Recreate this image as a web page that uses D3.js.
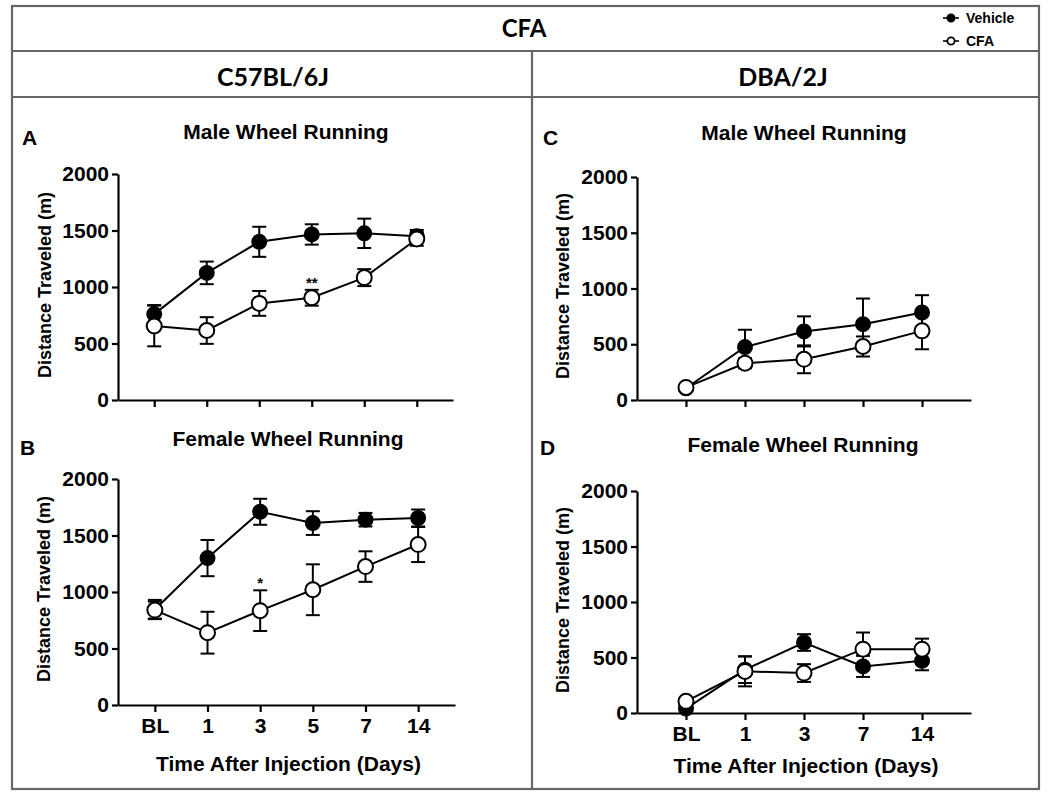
<!DOCTYPE html>
<html>
<head>
<meta charset="utf-8">
<script src="https://cdn.jsdelivr.net/npm/d3@7"></script>
<style>
  html, body { margin: 0; padding: 0; background: #fff; }
  svg { display: block; }
  .chart text { font-family: "Liberation Sans", Arial, sans-serif; font-weight: bold; fill: #000; }
  .chart text.hdr { font-family: "Lato", "Open Sans", sans-serif; font-weight: bold; }
</style>
</head>
<body>
<svg id="chart" class="chart" width="1050" height="801"></svg>
<script>
// ---------- DATA ----------
const daysAB = ["BL", "1", "3", "5", "7", "14"];
const daysCD = ["BL", "1", "3", "7", "14"];
const yTicks = [0, 500, 1000, 1500, 2000];
const seriesNames = ["Vehicle", "CFA"];

// A: C57BL/6J male
const aVehicle    = [760, 1125, 1400, 1465, 1475, 1450];
const aVehicleErr = [80, 100, 133, 90, 130, 55];
const aCFA        = [655, 615, 855, 905, 1083, 1425];
const aCFAErr     = [180, 118, 110, 70, 75, 60];
// B: C57BL/6J female
const bVehicle    = [845, 1300, 1710, 1610, 1640, 1655];
const bVehicleErr = [85, 160, 115, 105, 60, 75];
const bCFA        = [840, 640, 835, 1020, 1225, 1420];
const bCFAErr     = [75, 185, 180, 225, 135, 155];
// C: DBA/2J male
const cVehicle    = [105, 475, 615, 680, 785];
const cVehicleErr = [20, 155, 135, 230, 155];
const cCFA        = [113, 330, 365, 480, 620];
const cCFAErr     = [25, 45, 125, 90, 165];
// D: DBA/2J female
const dVehicle    = [40, 390, 635, 420, 470];
const dVehicleErr = [20, 120, 75, 95, 85];
const dCFA        = [105, 375, 360, 575, 575];
const dCFAErr     = [20, 135, 80, 150, 95];

// significance marks
const aStars = [{ cat: "5", text: "**" }];
const bStars = [{ cat: "3", text: "*" }];

const svg = d3.select("#chart");

// ---------- FRAME / HEADER ----------
const frame = svg.append("g").attr("stroke", "#666").attr("stroke-width", 2.2).attr("fill", "none");
frame.append("rect").attr("x", 12).attr("y", 6).attr("width", 1027).attr("height", 783);
frame.append("line").attr("x1", 12).attr("x2", 1039).attr("y1", 51).attr("y2", 51);
frame.append("line").attr("x1", 12).attr("x2", 1039).attr("y1", 97).attr("y2", 97);
frame.append("line").attr("x1", 532).attr("x2", 532).attr("y1", 51).attr("y2", 789);

svg.append("text").attr("class", "hdr").attr("x", 524).attr("y", 37)
  .attr("text-anchor", "middle").style("font-size", "24px").text("CFA");
svg.append("text").attr("class", "hdr").attr("x", 273).attr("y", 86)
  .attr("text-anchor", "middle").style("font-size", "25px").text("C57BL/6J");
svg.append("text").attr("class", "hdr").attr("x", 783).attr("y", 86)
  .attr("text-anchor", "middle").style("font-size", "25px").text("DBA/2J");

// legend
const leg = svg.append("g");
seriesNames.forEach((name, i) => {
  const y = 18 + i * 23;
  leg.append("line").attr("x1", 943).attr("x2", 959).attr("y1", y).attr("y2", y)
    .attr("stroke", "#000").attr("stroke-width", 1.6);
  leg.append("circle").attr("cx", 951).attr("cy", y).attr("r", 3.6)
    .attr("fill", i === 0 ? "#000" : "#fff").attr("stroke", "#000").attr("stroke-width", 1.8);
  leg.append("text").attr("x", 966).attr("y", y + 5).style("font-size", "14px").text(name);
});

// ---------- PANELS ----------
const panels = [
  { letter: "A", title: "Male Wheel Running", cats: daysAB,
    veh: aVehicle, vehErr: aVehicleErr, cfa: aCFA, cfaErr: aCFAErr, stars: aStars,
    xr: [118, 453], pad: 0.69, yr: [400, 174], showX: false,
    letterPos: [22, 145], titlePos: [286, 139], yTitlePos: [51, 285] },
  { letter: "B", title: "Female Wheel Running", cats: daysAB,
    veh: bVehicle, vehErr: bVehicleErr, cfa: bCFA, cfaErr: bCFAErr, stars: bStars,
    xr: [118, 455], pad: 0.7, yr: [705, 479], showX: true, xTitleY: 771,
    letterPos: [20, 455], titlePos: [288, 446], yTitlePos: [50, 589] },
  { letter: "C", title: "Male Wheel Running", cats: daysCD,
    veh: cVehicle, vehErr: cVehicleErr, cfa: cCFA, cfaErr: cCFAErr, stars: [],
    xr: [637, 971], pad: 0.83, yr: [400, 177], showX: false,
    letterPos: [543, 145], titlePos: [804, 140], yTitlePos: [569, 286] },
  { letter: "D", title: "Female Wheel Running", cats: daysCD,
    veh: dVehicle, vehErr: dVehicleErr, cfa: dCFA, cfaErr: dCFAErr, stars: [],
    xr: [637, 971], pad: 0.83, yr: [713, 491], showX: true, xTitleY: 773,
    letterPos: [540, 455], titlePos: [803, 452], yTitlePos: [569, 600] }
];

const fmt = d3.format("d");

panels.forEach(p => {
  const g = svg.append("g");
  const x = d3.scalePoint().domain(p.cats).range(p.xr).padding(p.pad);
  const y = d3.scaleLinear().domain([0, 2000]).range(p.yr);

  // labels
  g.append("text").attr("x", p.letterPos[0]).attr("y", p.letterPos[1])
    .style("font-size", "21px").text(p.letter);
  g.append("text").attr("x", p.titlePos[0]).attr("y", p.titlePos[1])
    .attr("text-anchor", "middle").style("font-size", "21px").text(p.title);
  g.append("text").attr("transform", `translate(${p.yTitlePos[0]},${p.yTitlePos[1]}) rotate(-90)`)
    .attr("text-anchor", "middle").style("font-size", "18px").text("Distance Traveled (m)");

  // axes
  const yAxis = g.append("g").attr("transform", `translate(${p.xr[0]},0)`)
    .call(d3.axisLeft(y).tickValues(yTicks).tickFormat(fmt).tickSize(6).tickSizeOuter(0).tickPadding(3));
  const xAxis = g.append("g").attr("transform", `translate(0,${p.yr[0]})`)
    .call(d3.axisBottom(x).tickSize(7).tickSizeOuter(0).tickPadding(6));
  [yAxis, xAxis].forEach(a => {
    a.selectAll("text").style("font-size", "21px")
      .style("font-family", "Liberation Sans, Arial, sans-serif").style("font-weight", "bold");
    a.selectAll("path, line").attr("stroke", "#000").attr("stroke-width", 2.2);
  });
  if (!p.showX) xAxis.selectAll("text").remove();
  if (p.showX) {
    g.append("text").attr("x", (p.xr[0] + p.xr[1]) / 2 + 2).attr("y", p.xTitleY)
      .attr("text-anchor", "middle").style("font-size", "21px").text("Time After Injection (Days)");
  }

  const series = [
    { vals: p.veh, errs: p.vehErr, fill: "#000", r: 7 },
    { vals: p.cfa, errs: p.cfaErr, fill: "#fff", r: 7.5 }
  ];
  const line = d3.line().x((d, i) => x(p.cats[i])).y(d => y(d));

  series.forEach(s => {
    const sg = g.append("g");
    // error bars
    p.cats.forEach((c, i) => {
      const cx = x(c), top = y(s.vals[i] + s.errs[i]), bot = y(Math.max(0, s.vals[i] - s.errs[i]));
      sg.append("line").attr("x1", cx).attr("x2", cx).attr("y1", top).attr("y2", bot)
        .attr("stroke", "#000").attr("stroke-width", 2);
      [top, bot].forEach(yy => sg.append("line").attr("x1", cx - 7).attr("x2", cx + 7)
        .attr("y1", yy).attr("y2", yy).attr("stroke", "#000").attr("stroke-width", 2));
    });
    sg.append("path").datum(s.vals).attr("d", line).attr("fill", "none")
      .attr("stroke", "#000").attr("stroke-width", 2);
    sg.selectAll("circle").data(s.vals).join("circle")
      .attr("cx", (d, i) => x(p.cats[i])).attr("cy", d => y(d)).attr("r", s.r)
      .attr("fill", s.fill).attr("stroke", "#000").attr("stroke-width", 2);
  });

  // significance
  p.stars.forEach(st => {
    const i = p.cats.indexOf(st.cat);
    g.append("text").attr("x", x(st.cat)).attr("y", y(p.cfa[i] + p.cfaErr[i]) - 2)
      .attr("text-anchor", "middle").style("font-size", "15px").text(st.text);
  });
});
</script>
</body>
</html>
